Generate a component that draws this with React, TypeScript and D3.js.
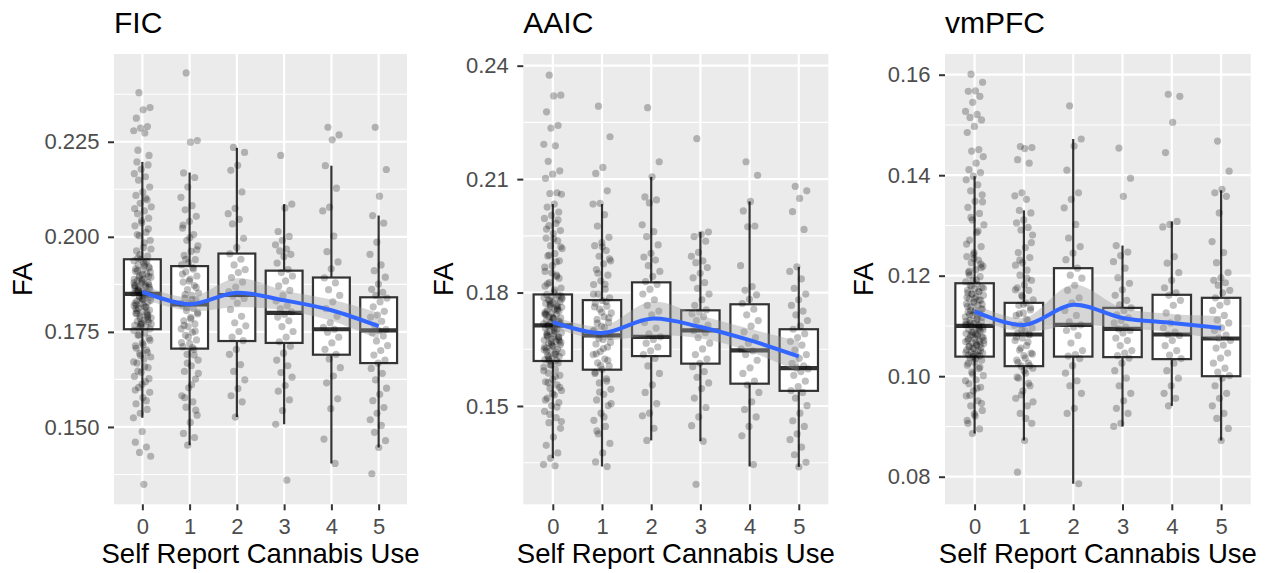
import React, { useEffect, useRef } from 'react';
import * as d3 from 'd3';

// categories on the x axis
const useLevels = [0, 1, 2, 3, 4, 5];
const useLabels = ['0', '1', '2', '3', '4', '5'];

// ---------- FIC ----------
const ficUse0 = [
  0.2379, 0.2340, 0.2334, 0.2312, 0.2290, 0.2286, 0.2279, 0.2273, 0.2228, 0.2214,
  0.1488, 0.1460, 0.1447, 0.1433, 0.1423, 0.1349,
  0.2197, 0.2189, 0.2178, 0.2166, 0.2158, 0.2149, 0.2131, 0.2118, 0.2109, 0.2097, 0.2088, 0.2079, 0.2068,
  0.2061, 0.2049, 0.2037, 0.2029, 0.2012, 0.2003, 0.1991, 0.1972, 0.1963, 0.1949,
  0.1941, 0.1937, 0.1929, 0.1926, 0.1918, 0.1913, 0.1909, 0.1903, 0.1898, 0.1894, 0.1889, 0.1884, 0.1879,
  0.1877, 0.1872, 0.1869, 0.1866, 0.1862, 0.1858, 0.1857, 0.1854, 0.1852, 0.1851, 0.1850, 0.1944, 0.1921,
  0.1887, 0.1871,
  0.1848, 0.1843, 0.1841, 0.1836, 0.1831, 0.1828, 0.1824, 0.1819, 0.1816, 0.1812, 0.1807, 0.1803, 0.1799,
  0.1796, 0.1792, 0.1787, 0.1781, 0.1778, 0.1776, 0.1771, 0.1767, 0.1763, 0.1760, 0.1758, 0.1845, 0.1822,
  0.1789, 0.1769,
  0.1754, 0.1747, 0.1741, 0.1733, 0.1721, 0.1713, 0.1702, 0.1693, 0.1684, 0.1679, 0.1668, 0.1656, 0.1644,
  0.1633, 0.1619, 0.1604, 0.1591, 0.1577, 0.1561, 0.1546, 0.1536, 0.1524,
  0.1852, 0.1861, 0.1873, 0.1838, 0.1826, 0.1815, 0.1894, 0.1907, 0.1932, 0.1798, 0.1782, 0.1764, 0.1879,
  0.1845, 0.1856, 0.1867, 0.1901, 0.1916, 0.1935, 0.1953, 0.1968, 0.1984, 0.2006, 0.2021, 0.2043, 0.2074,
  0.2102, 0.1742, 0.1728, 0.1716, 0.1707, 0.1696, 0.1688, 0.1671, 0.1659, 0.1647, 0.1627, 0.1612, 0.1597,
  0.1569, 0.1841, 0.1833, 0.1819, 0.1806, 0.1793, 0.1774, 0.1888, 0.1873, 0.1859, 0.1848, 0.1835, 0.1811,
  0.1801, 0.1786, 0.1771, 0.1923, 0.1911, 0.1896, 0.1882, 0.1866,
];
const ficUse1 = [
  0.2431, 0.2253, 0.2249, 0.2168, 0.2156, 0.2131, 0.2104, 0.2082, 0.2071, 0.2054, 0.2041, 0.2023, 0.2006,
  0.1991, 0.1976, 0.1962, 0.1951, 0.1940, 0.1932, 0.1926, 0.1919, 0.1908, 0.1897, 0.1889, 0.1881, 0.1872,
  0.1861, 0.1852, 0.1846, 0.1839, 0.1834, 0.1826, 0.1821, 0.1812, 0.1806, 0.1797, 0.1788, 0.1779, 0.1771,
  0.1764, 0.1758, 0.1749, 0.1741, 0.1729, 0.1719, 0.1711, 0.1704, 0.1691, 0.1676, 0.1661, 0.1646, 0.1626,
  0.1603, 0.1582, 0.1566, 0.1552, 0.1531, 0.1512, 0.1483, 0.1472, 0.1452,
  0.1825, 0.1835, 0.1848, 0.1867, 0.1884, 0.1902, 0.1915, 0.1814, 0.1801, 0.1784, 0.1767, 0.1752, 0.1736,
  0.1722, 0.1709, 0.1941, 0.1966, 0.1998, 0.2031, 0.1689, 0.1668, 0.1641, 0.1611, 0.1577, 0.1544,
];
const ficUse2 = [
  0.2235, 0.2222, 0.2188, 0.2175, 0.2118, 0.2075, 0.2061, 0.2046, 0.2034, 0.1996, 0.1972, 0.1955, 0.1941,
  0.1926, 0.1914, 0.1906, 0.1893, 0.1881, 0.1868, 0.1856, 0.1849, 0.1844, 0.1838, 0.1826, 0.1809, 0.1791,
  0.1774, 0.1766, 0.1751, 0.1736, 0.1727, 0.1704, 0.1691, 0.1664, 0.1646, 0.1624, 0.1601, 0.1582, 0.1566,
  0.1526,
];
const ficUse3 = [
  0.2214, 0.2086, 0.2076, 0.2014, 0.2001, 0.1991, 0.1979, 0.1968, 0.1963, 0.1954, 0.1948, 0.1931, 0.1914,
  0.1906, 0.1897, 0.1884, 0.1871, 0.1859, 0.1846, 0.1831, 0.1819, 0.1811, 0.1803, 0.1796, 0.1789, 0.1779,
  0.1764, 0.1751, 0.1736, 0.1724, 0.1712, 0.1694, 0.1676, 0.1661, 0.1643, 0.1631, 0.1609, 0.1594, 0.1571,
  0.1543, 0.1507, 0.1360,
];
const ficUse4 = [
  0.2288, 0.2268, 0.2255, 0.2187, 0.2128, 0.2078, 0.2068, 0.2002, 0.1961, 0.1934, 0.1916, 0.1892, 0.1879,
  0.1861, 0.1846, 0.1829, 0.1811, 0.1791, 0.1774, 0.1762, 0.1757, 0.1749, 0.1736, 0.1721, 0.1704, 0.1691,
  0.1679, 0.1656, 0.1634, 0.1616, 0.1574, 0.1548, 0.1468, 0.1404,
];
const ficUse5 = [
  0.2288, 0.2177, 0.2107, 0.2056, 0.2036, 0.1986, 0.1954, 0.1926, 0.1911, 0.1894, 0.1876, 0.1862, 0.1854,
  0.1846, 0.1839, 0.1829, 0.1816, 0.1804, 0.1794, 0.1789, 0.1778, 0.1766, 0.1756, 0.1753, 0.1748, 0.1739,
  0.1726, 0.1714, 0.1701, 0.1689, 0.1676, 0.1668, 0.1654, 0.1641, 0.1624, 0.1602, 0.1586, 0.1569, 0.1551,
  0.1536, 0.1519, 0.1504, 0.1486, 0.1464, 0.1446, 0.1377,
];
const ficLow = [0.1524, 0.1452, 0.1526, 0.1507, 0.1404, 0.1446];
const ficQ1 = [0.1757, 0.1706, 0.1726, 0.1721, 0.1690, 0.1668];
const ficMedian = [0.1850, 0.1822, 0.1847, 0.1800, 0.1757, 0.1754];
const ficQ3 = [0.1941, 0.1923, 0.1956, 0.1911, 0.1893, 0.1841];
const ficHigh = [0.2197, 0.2169, 0.2234, 0.2086, 0.2187, 0.2056];
const ficFit = [0.1855, 0.1823, 0.1853, 0.1833, 0.1807, 0.1765];
const ficSe = [0.0018, 0.0018, 0.0038, 0.0026, 0.0028, 0.0035];
const ficTicks = [0.15, 0.175, 0.2, 0.225];
const ficTickLabels = ['0.150', '0.175', '0.200', '0.225'];

// ---------- AAIC ----------
const aaicUse0 = [
  0.2375, 0.2322, 0.2320, 0.2278, 0.2242, 0.2235, 0.2192, 0.2188, 0.2147, 0.2122, 0.2113, 0.2102, 0.2064,
  0.2062, 0.2060,
  0.2034, 0.2026, 0.2013, 0.2004, 0.1996, 0.1983, 0.1977, 0.1964, 0.1956, 0.1944, 0.1937, 0.1924, 0.1916,
  0.1903, 0.1897, 0.1884, 0.1871, 0.1856, 0.1843, 0.1826, 0.1812, 0.1801,
  0.1795, 0.1793, 0.1789, 0.1786, 0.1783, 0.1781, 0.1776, 0.1773, 0.1771, 0.1766, 0.1763, 0.1761, 0.1756,
  0.1753, 0.1751, 0.1746, 0.1743, 0.1741, 0.1736, 0.1733, 0.1731, 0.1726, 0.1723, 0.1721, 0.1717, 0.1715,
  0.1714, 0.1713,
  0.1711, 0.1706, 0.1703, 0.1697, 0.1694, 0.1691, 0.1686, 0.1683, 0.1677, 0.1674, 0.1671, 0.1666, 0.1661,
  0.1658, 0.1653, 0.1651, 0.1646, 0.1641, 0.1638, 0.1633, 0.1631, 0.1627, 0.1623, 0.1621, 0.1619, 0.1668,
  0.1685, 0.1645,
  0.1614, 0.1609, 0.1603, 0.1596, 0.1587, 0.1581, 0.1571, 0.1564, 0.1556, 0.1547, 0.1541, 0.1529, 0.1521,
  0.1509, 0.1501, 0.1486, 0.1469, 0.1456, 0.1441, 0.1418, 0.1396, 0.1376, 0.1362, 0.1345, 0.1342,
  0.1712, 0.1724, 0.1735, 0.1748, 0.1762, 0.1778, 0.1791, 0.1702, 0.1689, 0.1676, 0.1663, 0.1649, 0.1636,
  0.1624, 0.1716, 0.1729, 0.1741, 0.1754, 0.1768, 0.1783, 0.1807, 0.1823, 0.1838, 0.1852, 0.1867, 0.1881,
  0.1899, 0.1921, 0.1942, 0.1968, 0.1992, 0.1608, 0.1593, 0.1578, 0.1562, 0.1549, 0.1533, 0.1516, 0.1497,
  0.1478, 0.1459, 0.1707, 0.1694, 0.1681, 0.1669, 0.1656, 0.1643, 0.1629, 0.1719, 0.1732, 0.1744, 0.1758,
  0.1771, 0.1786, 0.1698, 0.1684, 0.1672, 0.1659, 0.1817, 0.1846,
];
const aaicUse1 = [
  0.2293, 0.2212, 0.2131, 0.2115, 0.2069, 0.2036, 0.2034, 0.2006, 0.1976, 0.1946, 0.1932, 0.1924, 0.1911,
  0.1896, 0.1884, 0.1876, 0.1861, 0.1846, 0.1831, 0.1821, 0.1809, 0.1796, 0.1786, 0.1779, 0.1772, 0.1764,
  0.1756, 0.1746, 0.1736, 0.1729, 0.1721, 0.1711, 0.1701, 0.1691, 0.1688, 0.1684, 0.1676, 0.1664, 0.1656,
  0.1644, 0.1636, 0.1624, 0.1614, 0.1606, 0.1597, 0.1586, 0.1572, 0.1561, 0.1544, 0.1531, 0.1516, 0.1501,
  0.1481, 0.1462, 0.1446, 0.1426, 0.1401, 0.1376, 0.1352, 0.1340,
  0.1689, 0.1698, 0.1708, 0.1719, 0.1733, 0.1748, 0.1762, 0.1776, 0.1679, 0.1668, 0.1652, 0.1638, 0.1621,
  0.1607, 0.1796, 0.1822, 0.1851, 0.1889, 0.1921, 0.1589, 0.1566, 0.1537, 0.1506, 0.1471, 0.1434,
];
const aaicUse2 = [
  0.2289, 0.2146, 0.2106, 0.2053, 0.2045, 0.2037, 0.1979, 0.1961, 0.1948, 0.1926, 0.1904, 0.1894, 0.1886,
  0.1871, 0.1856, 0.1843, 0.1829, 0.1821, 0.1809, 0.1796, 0.1781, 0.1766, 0.1751, 0.1741, 0.1721, 0.1706,
  0.1691, 0.1683, 0.1676, 0.1666, 0.1656, 0.1646, 0.1636, 0.1626, 0.1606, 0.1586, 0.1556, 0.1536, 0.1506,
  0.1481, 0.1474, 0.1441, 0.1409,
];
const aaicUse3 = [
  0.2207, 0.1960, 0.1954, 0.1948, 0.1936, 0.1906, 0.1896, 0.1884, 0.1879, 0.1866, 0.1851, 0.1839, 0.1826,
  0.1811, 0.1796, 0.1781, 0.1766, 0.1754, 0.1749, 0.1744, 0.1736, 0.1726, 0.1714, 0.1706, 0.1699, 0.1694,
  0.1681, 0.1666, 0.1651, 0.1636, 0.1624, 0.1613, 0.1604, 0.1591, 0.1576, 0.1561, 0.1546, 0.1521, 0.1496,
  0.1471, 0.1448, 0.1407, 0.1293,
];
const aaicUse4 = [
  0.2146, 0.2110, 0.2041, 0.2016, 0.1976, 0.1974, 0.1871, 0.1816, 0.1806, 0.1794, 0.1782, 0.1771, 0.1756,
  0.1741, 0.1726, 0.1711, 0.1696, 0.1681, 0.1666, 0.1651, 0.1646, 0.1636, 0.1621, 0.1601, 0.1586, 0.1566,
  0.1556, 0.1536, 0.1511, 0.1491, 0.1471, 0.1446, 0.1421, 0.1345,
];
const aaicUse5 = [
  0.2081, 0.2069, 0.2049, 0.2014, 0.1967, 0.1868, 0.1856, 0.1836, 0.1811, 0.1796, 0.1781, 0.1766, 0.1751,
  0.1741, 0.1726, 0.1711, 0.1703, 0.1691, 0.1681, 0.1671, 0.1661, 0.1648, 0.1636, 0.1626, 0.1613, 0.1606,
  0.1601, 0.1598, 0.1591, 0.1581, 0.1566, 0.1551, 0.1541, 0.1536, 0.1521, 0.1501, 0.1481, 0.1461, 0.1446,
  0.1426, 0.1411, 0.1391, 0.1371, 0.1351, 0.1339,
];
const aaicLow = [0.1362, 0.1340, 0.1409, 0.1407, 0.1340, 0.1339];
const aaicQ1 = [0.1619, 0.1596, 0.1632, 0.1612, 0.1559, 0.1540];
const aaicMedian = [0.1713, 0.1687, 0.1683, 0.1700, 0.1647, 0.1600];
const aaicQ3 = [0.1795, 0.1780, 0.1827, 0.1753, 0.1769, 0.1703];
const aaicHigh = [0.2034, 0.2034, 0.2106, 0.1960, 0.2041, 0.1868];
const aaicFit = [0.1722, 0.1693, 0.1731, 0.1709, 0.1674, 0.1631];
const aaicSe = [0.0016, 0.0018, 0.0045, 0.0030, 0.0030, 0.0040];
const aaicTicks = [0.15, 0.18, 0.21, 0.24];
const aaicTickLabels = ['0.15', '0.18', '0.21', '0.24'];

// ---------- vmPFC ----------
const vmpfcUse0 = [
  0.1601, 0.1585, 0.1568, 0.1567, 0.1557, 0.1545, 0.1527, 0.1521, 0.1515, 0.1510, 0.1497, 0.1485, 0.1451,
  0.1448, 0.1437, 0.1424, 0.1411, 0.1405,
  0.1398, 0.1391, 0.1381, 0.1369, 0.1361, 0.1348, 0.1336, 0.1324, 0.1311, 0.1301, 0.1286, 0.1271, 0.1258,
  0.1246, 0.1238, 0.1231, 0.1226, 0.1219, 0.1212, 0.1206, 0.1198, 0.1191, 0.1188,
  0.1183, 0.1181, 0.1177, 0.1174, 0.1171, 0.1168, 0.1164, 0.1161, 0.1158, 0.1154, 0.1151, 0.1148, 0.1144,
  0.1141, 0.1138, 0.1134, 0.1131, 0.1128, 0.1124, 0.1121, 0.1118, 0.1114, 0.1111, 0.1108, 0.1105, 0.1103,
  0.1101, 0.1100,
  0.1098, 0.1095, 0.1093, 0.1090, 0.1088, 0.1085, 0.1083, 0.1080, 0.1078, 0.1075, 0.1072, 0.1070, 0.1067,
  0.1065, 0.1062, 0.1060, 0.1057, 0.1055, 0.1052, 0.1050, 0.1048, 0.1046, 0.1044, 0.1042, 0.1040, 0.1039,
  0.1069, 0.1081,
  0.1036, 0.1032, 0.1028, 0.1022, 0.1015, 0.1008, 0.1001, 0.0993, 0.0985, 0.0978, 0.0971, 0.0961, 0.0951,
  0.0941, 0.0932, 0.0921, 0.0906, 0.0895, 0.0886,
  0.1102, 0.1112, 0.1123, 0.1133, 0.1146, 0.1157, 0.1169, 0.1179, 0.1092, 0.1084, 0.1074, 0.1064, 0.1056,
  0.1047, 0.1041, 0.1106, 0.1117, 0.1127, 0.1139, 0.1152, 0.1163, 0.1175, 0.1192, 0.1209, 0.1223, 0.1242,
  0.1263, 0.1289, 0.1316, 0.1347, 0.1035, 0.1026, 0.1018, 0.1004, 0.0991, 0.0976, 0.0962, 0.0946, 0.0925,
  0.0912, 0.1097, 0.1087, 0.1077, 0.1068, 0.1059, 0.1051, 0.1043, 0.1109, 0.1119, 0.1131, 0.1143, 0.1155,
  0.1166, 0.1094, 0.1082, 0.1071, 0.1062, 0.1201, 0.1216, 0.1234,
];
const vmpfcUse1 = [
  0.1457, 0.1455, 0.1453, 0.1431, 0.1424, 0.1365, 0.1359, 0.1352, 0.1330, 0.1325, 0.1311, 0.1305, 0.1296,
  0.1291, 0.1281, 0.1256, 0.1246, 0.1236, 0.1226, 0.1221, 0.1211, 0.1201, 0.1191, 0.1182, 0.1176, 0.1171,
  0.1161, 0.1152, 0.1146, 0.1141, 0.1132, 0.1126, 0.1121, 0.1111, 0.1102, 0.1096, 0.1091, 0.1086, 0.1082,
  0.1076, 0.1071, 0.1061, 0.1052, 0.1046, 0.1041, 0.1032, 0.1026, 0.1020, 0.1016, 0.1006, 0.0996, 0.0981,
  0.0971, 0.0956, 0.0941, 0.0926, 0.0906, 0.0872, 0.0809,
  0.1084, 0.1092, 0.1101, 0.1113, 0.1124, 0.1136, 0.1143, 0.1078, 0.1068, 0.1056, 0.1044, 0.1036, 0.1027,
  0.1021, 0.1158, 0.1172, 0.1195, 0.1231, 0.1266, 0.1011, 0.0998, 0.0986, 0.0963, 0.0949, 0.0916,
];
const vmpfcUse2 = [
  0.1538, 0.1472, 0.1458, 0.1410, 0.1365, 0.1352, 0.1335, 0.1302, 0.1275, 0.1258, 0.1245, 0.1232, 0.1215,
  0.1201, 0.1195, 0.1181, 0.1171, 0.1156, 0.1146, 0.1131, 0.1121, 0.1108, 0.1102, 0.1098, 0.1091, 0.1081,
  0.1066, 0.1051, 0.1043, 0.1040, 0.1035, 0.1021, 0.1006, 0.0991, 0.0981, 0.0966, 0.0936, 0.0926, 0.0786,
];
const vmpfcUse3 = [
  0.1454, 0.1394, 0.1358, 0.1260, 0.1247, 0.1240, 0.1228, 0.1215, 0.1196, 0.1185, 0.1172, 0.1161, 0.1151,
  0.1142, 0.1136, 0.1131, 0.1122, 0.1116, 0.1111, 0.1106, 0.1098, 0.1094, 0.1091, 0.1086, 0.1076, 0.1071,
  0.1061, 0.1051, 0.1046, 0.1041, 0.1036, 0.1026, 0.1011, 0.0996, 0.0981, 0.0966, 0.0951, 0.0936, 0.0926,
  0.0906, 0.0900,
];
const vmpfcUse4 = [
  0.1561, 0.1557, 0.1505, 0.1445, 0.1308, 0.1302, 0.1297, 0.1238, 0.1225, 0.1206, 0.1191, 0.1176, 0.1166,
  0.1161, 0.1151, 0.1141, 0.1126, 0.1116, 0.1106, 0.1096, 0.1088, 0.1083, 0.1081, 0.1071, 0.1061, 0.1051,
  0.1042, 0.1035, 0.1026, 0.1011, 0.0996, 0.0981, 0.0966, 0.0956, 0.0941,
];
const vmpfcUse5 = [
  0.1468, 0.1408, 0.1372, 0.1365, 0.1358, 0.1325, 0.1268, 0.1246, 0.1226, 0.1206, 0.1196, 0.1191, 0.1186,
  0.1181, 0.1171, 0.1166, 0.1156, 0.1148, 0.1141, 0.1131, 0.1121, 0.1112, 0.1106, 0.1096, 0.1091, 0.1082,
  0.1076, 0.1071, 0.1062, 0.1056, 0.1046, 0.1036, 0.1026, 0.1016, 0.1008, 0.1001, 0.0996, 0.0981, 0.0966,
  0.0956, 0.0941, 0.0926, 0.0916, 0.0896, 0.0872,
];
const vmpfcLow = [0.0886, 0.0872, 0.0786, 0.0900, 0.0941, 0.0872];
const vmpfcQ1 = [0.1039, 0.1020, 0.1039, 0.1038, 0.1034, 0.1000];
const vmpfcMedian = [0.1100, 0.1083, 0.1102, 0.1094, 0.1083, 0.1075];
const vmpfcQ3 = [0.1185, 0.1146, 0.1215, 0.1136, 0.1162, 0.1156];
const vmpfcHigh = [0.1398, 0.1330, 0.1472, 0.1260, 0.1308, 0.1370];
const vmpfcFit = [0.1129, 0.1102, 0.1142, 0.1116, 0.1106, 0.1096];
const vmpfcSe = [0.0015, 0.0014, 0.0040, 0.0020, 0.0018, 0.0024];
const vmpfcTicks = [0.08, 0.1, 0.12, 0.14, 0.16];
const vmpfcTickLabels = ['0.08', '0.10', '0.12', '0.14', '0.16'];

// ---------- layout ----------
const FONT = '"Liberation Sans", Arial, Helvetica, sans-serif';
const WIDTH = 1270;
const HEIGHT = 573;
const PLOT_TOP = 54;
const PLOT_BOTTOM = 504.3;
const JITTER = 0.19; // half width of the jitter, in category units
const BOX_HALF = 0.39;

interface Panel {
  title: string;
  points: number[][];
  low: number[];
  q1: number[];
  median: number[];
  q3: number[];
  high: number[];
  fit: number[];
  se: number[];
  ticks: number[];
  tickLabels: string[];
  domain: [number, number];
  left: number;
  right: number;
  yTitleX: number;
}

const panels: Panel[] = [
  {
    title: 'FIC',
    points: [ficUse0, ficUse1, ficUse2, ficUse3, ficUse4, ficUse5],
    low: ficLow, q1: ficQ1, median: ficMedian, q3: ficQ3, high: ficHigh,
    fit: ficFit, se: ficSe, ticks: ficTicks, tickLabels: ficTickLabels,
    domain: [0.12966, 0.24808], left: 114, right: 407, yTitleX: 31.7,
  },
  {
    title: 'AAIC',
    points: [aaicUse0, aaicUse1, aaicUse2, aaicUse3, aaicUse4, aaicUse5],
    low: aaicLow, q1: aaicQ1, median: aaicMedian, q3: aaicQ3, high: aaicHigh,
    fit: aaicFit, se: aaicSe, ticks: aaicTicks, tickLabels: aaicTickLabels,
    domain: [0.1240, 0.24309], left: 523.3, right: 828.3, yTitleX: 453.3,
  },
  {
    title: 'vmPFC',
    points: [vmpfcUse0, vmpfcUse1, vmpfcUse2, vmpfcUse3, vmpfcUse4, vmpfcUse5],
    low: vmpfcLow, q1: vmpfcQ1, median: vmpfcMedian, q3: vmpfcQ3, high: vmpfcHigh,
    fit: vmpfcFit, se: vmpfcSe, ticks: vmpfcTicks, tickLabels: vmpfcTickLabels,
    domain: [0.07451, 0.16412], left: 945, right: 1250.7, yTitleX: 873.3,
  },
];

// deterministic spread for the jittered points (golden-ratio sequence)
const jitterOffset = (i: number) => (((i * 0.6180339887 + 0.31) % 1) - 0.5) * 2 * JITTER;

const drawPanel = (svg: d3.Selection<SVGSVGElement, unknown, null, undefined>, p: Panel) => {
  const x = d3.scaleLinear().domain([-0.6, 5.6]).range([p.left, p.right]);
  const y = d3.scaleLinear().domain(p.domain).range([PLOT_BOTTOM, PLOT_TOP]);
  const g = svg.append('g');

  // panel background
  g.append('rect')
    .attr('x', p.left)
    .attr('y', PLOT_TOP)
    .attr('width', p.right - p.left)
    .attr('height', PLOT_BOTTOM - PLOT_TOP)
    .attr('fill', '#EBEBEB');

  // minor grid halfway between the major breaks
  const step = p.ticks[1] - p.ticks[0];
  const minor = d3.range(-1, p.ticks.length)
    .map(i => p.ticks[0] + (i + 0.5) * step)
    .filter(v => v > p.domain[0] && v < p.domain[1]);

  g.selectAll('.minor')
    .data(minor)
    .enter()
    .append('line')
    .attr('x1', p.left)
    .attr('x2', p.right)
    .attr('y1', d => y(d))
    .attr('y2', d => y(d))
    .attr('stroke', '#ffffff')
    .attr('stroke-width', 1.1);

  g.selectAll('.major-y')
    .data(p.ticks)
    .enter()
    .append('line')
    .attr('x1', p.left)
    .attr('x2', p.right)
    .attr('y1', d => y(d))
    .attr('y2', d => y(d))
    .attr('stroke', '#ffffff')
    .attr('stroke-width', 2.2);

  g.selectAll('.major-x')
    .data(useLevels)
    .enter()
    .append('line')
    .attr('x1', d => x(d))
    .attr('x2', d => x(d))
    .attr('y1', PLOT_TOP)
    .attr('y2', PLOT_BOTTOM)
    .attr('stroke', '#ffffff')
    .attr('stroke-width', 2.2);

  // boxplots
  const boxes = g.selectAll('.box')
    .data(useLevels)
    .enter()
    .append('g');

  boxes.append('line')
    .attr('x1', d => x(d)).attr('x2', d => x(d))
    .attr('y1', (d, i) => y(p.high[i])).attr('y2', (d, i) => y(p.q3[i]))
    .attr('stroke', '#333333').attr('stroke-width', 2.2);
  boxes.append('line')
    .attr('x1', d => x(d)).attr('x2', d => x(d))
    .attr('y1', (d, i) => y(p.q1[i])).attr('y2', (d, i) => y(p.low[i]))
    .attr('stroke', '#333333').attr('stroke-width', 2.2);
  boxes.append('rect')
    .attr('x', d => x(d - BOX_HALF))
    .attr('width', d => x(d + BOX_HALF) - x(d - BOX_HALF))
    .attr('y', (d, i) => y(p.q3[i]))
    .attr('height', (d, i) => y(p.q1[i]) - y(p.q3[i]))
    .attr('fill', '#ffffff')
    .attr('stroke', '#333333')
    .attr('stroke-width', 2.2);
  boxes.append('line')
    .attr('x1', d => x(d - BOX_HALF)).attr('x2', d => x(d + BOX_HALF))
    .attr('y1', (d, i) => y(p.median[i])).attr('y2', (d, i) => y(p.median[i]))
    .attr('stroke', '#333333').attr('stroke-width', 4.2);

  // jittered points
  p.points.forEach((vals, gi) => {
    g.append('g')
      .selectAll('circle')
      .data(vals)
      .enter()
      .append('circle')
      .attr('cx', (d, j) => x(useLevels[gi] + jitterOffset(j)))
      .attr('cy', d => y(d))
      .attr('r', 3.6)
      .attr('fill', '#000000')
      .attr('fill-opacity', 0.25);
  });

  // loess band and line
  const band = d3.area<number>()
    .x((d, i) => x(useLevels[i]))
    .y0((d, i) => y(d - p.se[i]))
    .y1((d, i) => y(d + p.se[i]))
    .curve(d3.curveCatmullRom);
  g.append('path')
    .datum(p.fit)
    .attr('d', band)
    .attr('fill', '#999999')
    .attr('fill-opacity', 0.4);

  const fitLine = d3.line<number>()
    .x((d, i) => x(useLevels[i]))
    .y(d => y(d))
    .curve(d3.curveCatmullRom);
  g.append('path')
    .datum(p.fit)
    .attr('d', fitLine)
    .attr('fill', 'none')
    .attr('stroke', '#3366FF')
    .attr('stroke-width', 4);

  // axes
  const yAxis = d3.axisLeft(y)
    .tickValues(p.ticks)
    .tickFormat((d, i) => p.tickLabels[i])
    .tickSize(6)
    .tickPadding(8.5);
  const xAxis = d3.axisBottom(x)
    .tickValues(useLevels)
    .tickFormat((d, i) => useLabels[i])
    .tickSize(6)
    .tickPadding(8.5);

  const ya = g.append('g').attr('transform', `translate(${p.left},0)`).call(yAxis);
  const xa = g.append('g').attr('transform', `translate(0,${PLOT_BOTTOM})`).call(xAxis);
  [ya, xa].forEach(a => {
    a.select('.domain').remove();
    a.attr('font-family', FONT).attr('font-size', 22);
    a.selectAll('line').attr('stroke', '#333333').attr('stroke-width', 2);
    a.selectAll('text').attr('fill', '#4D4D4D');
  });

  // titles
  g.append('text')
    .attr('x', p.left)
    .attr('y', 33.3)
    .attr('font-family', FONT)
    .attr('font-size', 30)
    .attr('fill', '#000000')
    .text(p.title);

  g.append('text')
    .attr('x', (p.left + p.right) / 2)
    .attr('y', 563)
    .attr('text-anchor', 'middle')
    .attr('font-family', FONT)
    .attr('font-size', 27.5)
    .attr('fill', '#000000')
    .text('Self Report Cannabis Use');

  g.append('text')
    .attr('transform', `translate(${p.yTitleX},${(PLOT_TOP + PLOT_BOTTOM) / 2}) rotate(-90)`)
    .attr('text-anchor', 'middle')
    .attr('font-family', FONT)
    .attr('font-size', 27.5)
    .attr('fill', '#000000')
    .text('FA');
};

const App: React.FC = () => {
  const svgRef = useRef<SVGSVGElement>(null);

  useEffect(() => {
    if (!svgRef.current) return;
    const svg = d3.select(svgRef.current);
    svg.selectAll('*').remove();
    panels.forEach(p => drawPanel(svg, p));
  }, []);

  return (
    <svg
      ref={svgRef}
      width={WIDTH}
      height={HEIGHT}
      style={{ position: 'absolute', left: 0, top: 0, background: '#ffffff' }}
    />
  );
};

export default App;
